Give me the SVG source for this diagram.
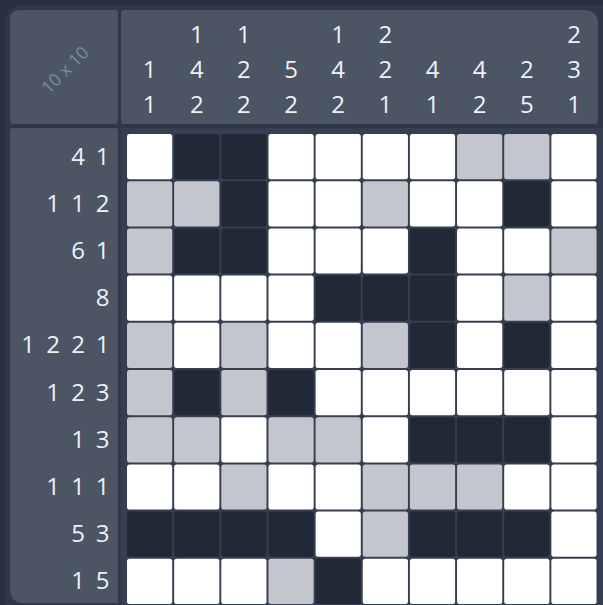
<svg xmlns="http://www.w3.org/2000/svg" width="603" height="605" viewBox="0 0 603 605">
<style>
.panel{fill:#4b5564}
.clue{font-family:"Open Sans","Noto Sans",sans-serif;font-size:24px;fill:#eef2f7;text-anchor:middle}
.c{rx:2.5;ry:2.5;width:45.2px;height:45.2px}
.w{fill:#ffffff}
.d{fill:#212937}
.g{fill:#c4c6ce}
</style>
<rect x="0" y="0" width="603" height="605" fill="#283141"/>
<rect x="5" y="5" width="620" height="630" rx="16" fill="#2f3848"/>
<g id="corner">
<path class="panel" d="M20,10 H115 Q118,10 118,13 V121 Q118,124 115,124 H13 Q10,124 10,121 V20 Q10,10 20,10 Z"/>
<text x="65" y="76" transform="rotate(-45 65 70)" font-family="'Open Sans','Noto Sans',sans-serif" font-size="17.5" fill="#7a8ca3" text-anchor="middle">10 x 10</text>
</g>
<g id="column-clues">
<path class="panel" d="M124,10 H584 Q598,10 598,24 V121 Q598,124 595,124 H124 Q121,124 121,121 V13 Q121,10 124,10 Z"/>
<text class="clue" x="149.6" y="78.3">1</text><text class="clue" x="149.6" y="113.3">1</text>
<text class="clue" x="196.8" y="43">1</text><text class="clue" x="196.8" y="78.3">4</text><text class="clue" x="196.8" y="113.3">2</text>
<text class="clue" x="243.9" y="43">1</text><text class="clue" x="243.9" y="78.3">2</text><text class="clue" x="243.9" y="113.3">2</text>
<text class="clue" x="291.1" y="78.3">5</text><text class="clue" x="291.1" y="113.3">2</text>
<text class="clue" x="338.2" y="43">1</text><text class="clue" x="338.2" y="78.3">4</text><text class="clue" x="338.2" y="113.3">2</text>
<text class="clue" x="385.4" y="43">2</text><text class="clue" x="385.4" y="78.3">2</text><text class="clue" x="385.4" y="113.3">1</text>
<text class="clue" x="432.5" y="78.3">4</text><text class="clue" x="432.5" y="113.3">1</text>
<text class="clue" x="479.7" y="78.3">4</text><text class="clue" x="479.7" y="113.3">2</text>
<text class="clue" x="526.8" y="78.3">2</text><text class="clue" x="526.8" y="113.3">5</text>
<text class="clue" x="574" y="43">2</text><text class="clue" x="574" y="78.3">3</text><text class="clue" x="574" y="113.3">1</text>
</g>
<g id="row-clues">
<path class="panel" d="M13,128 H115 Q118,128 118,131 V603 H24 Q10,603 10,589 V131 Q10,128 13,128 Z"/>
<text class="clue" x="78" y="164.6">4</text><text class="clue" x="102.5" y="164.6">1</text>
<text class="clue" x="53" y="211.8">1</text><text class="clue" x="78" y="211.8">1</text><text class="clue" x="102.5" y="211.8">2</text>
<text class="clue" x="78" y="259">6</text><text class="clue" x="102.5" y="259">1</text>
<text class="clue" x="102.5" y="306.2">8</text>
<text class="clue" x="28" y="353.4">1</text><text class="clue" x="53" y="353.4">2</text><text class="clue" x="78" y="353.4">2</text><text class="clue" x="102.5" y="353.4">1</text>
<text class="clue" x="53" y="400.6">1</text><text class="clue" x="78" y="400.6">2</text><text class="clue" x="102.5" y="400.6">3</text>
<text class="clue" x="78" y="447.8">1</text><text class="clue" x="102.5" y="447.8">3</text>
<text class="clue" x="53" y="495">1</text><text class="clue" x="78" y="495">1</text><text class="clue" x="102.5" y="495">1</text>
<text class="clue" x="78" y="542.2">5</text><text class="clue" x="102.5" y="542.2">3</text>
<text class="clue" x="78" y="589.4">1</text><text class="clue" x="102.5" y="589.4">5</text>
</g>
<g id="grid">
<rect x="121" y="128" width="482" height="477" fill="#363f4f"/>
<g id="row1">
<rect class="c w" x="127" y="134"/><rect class="c d" x="174.15" y="134"/><rect class="c d" x="221.3" y="134"/><rect class="c w" x="268.45" y="134"/><rect class="c w" x="315.6" y="134"/><rect class="c w" x="362.75" y="134"/><rect class="c w" x="409.9" y="134"/><rect class="c g" x="457.05" y="134"/><rect class="c g" x="504.2" y="134"/><rect class="c w" x="551.35" y="134"/>
</g>
<g id="row2">
<rect class="c g" x="127" y="181.2"/><rect class="c g" x="174.15" y="181.2"/><rect class="c d" x="221.3" y="181.2"/><rect class="c w" x="268.45" y="181.2"/><rect class="c w" x="315.6" y="181.2"/><rect class="c g" x="362.75" y="181.2"/><rect class="c w" x="409.9" y="181.2"/><rect class="c w" x="457.05" y="181.2"/><rect class="c d" x="504.2" y="181.2"/><rect class="c w" x="551.35" y="181.2"/>
</g>
<g id="row3">
<rect class="c g" x="127" y="228.4"/><rect class="c d" x="174.15" y="228.4"/><rect class="c d" x="221.3" y="228.4"/><rect class="c w" x="268.45" y="228.4"/><rect class="c w" x="315.6" y="228.4"/><rect class="c w" x="362.75" y="228.4"/><rect class="c d" x="409.9" y="228.4"/><rect class="c w" x="457.05" y="228.4"/><rect class="c w" x="504.2" y="228.4"/><rect class="c g" x="551.35" y="228.4"/>
</g>
<g id="row4">
<rect class="c w" x="127" y="275.6"/><rect class="c w" x="174.15" y="275.6"/><rect class="c w" x="221.3" y="275.6"/><rect class="c w" x="268.45" y="275.6"/><rect class="c d" x="315.6" y="275.6"/><rect class="c d" x="362.75" y="275.6"/><rect class="c d" x="409.9" y="275.6"/><rect class="c w" x="457.05" y="275.6"/><rect class="c g" x="504.2" y="275.6"/><rect class="c w" x="551.35" y="275.6"/>
</g>
<g id="row5">
<rect class="c g" x="127" y="322.8"/><rect class="c w" x="174.15" y="322.8"/><rect class="c g" x="221.3" y="322.8"/><rect class="c w" x="268.45" y="322.8"/><rect class="c w" x="315.6" y="322.8"/><rect class="c g" x="362.75" y="322.8"/><rect class="c d" x="409.9" y="322.8"/><rect class="c w" x="457.05" y="322.8"/><rect class="c d" x="504.2" y="322.8"/><rect class="c w" x="551.35" y="322.8"/>
</g>
<g id="row6">
<rect class="c g" x="127" y="370"/><rect class="c d" x="174.15" y="370"/><rect class="c g" x="221.3" y="370"/><rect class="c d" x="268.45" y="370"/><rect class="c w" x="315.6" y="370"/><rect class="c w" x="362.75" y="370"/><rect class="c w" x="409.9" y="370"/><rect class="c w" x="457.05" y="370"/><rect class="c w" x="504.2" y="370"/><rect class="c w" x="551.35" y="370"/>
</g>
<g id="row7">
<rect class="c g" x="127" y="417.2"/><rect class="c g" x="174.15" y="417.2"/><rect class="c w" x="221.3" y="417.2"/><rect class="c g" x="268.45" y="417.2"/><rect class="c g" x="315.6" y="417.2"/><rect class="c w" x="362.75" y="417.2"/><rect class="c d" x="409.9" y="417.2"/><rect class="c d" x="457.05" y="417.2"/><rect class="c d" x="504.2" y="417.2"/><rect class="c w" x="551.35" y="417.2"/>
</g>
<g id="row8">
<rect class="c w" x="127" y="464.4"/><rect class="c w" x="174.15" y="464.4"/><rect class="c g" x="221.3" y="464.4"/><rect class="c w" x="268.45" y="464.4"/><rect class="c w" x="315.6" y="464.4"/><rect class="c g" x="362.75" y="464.4"/><rect class="c g" x="409.9" y="464.4"/><rect class="c g" x="457.05" y="464.4"/><rect class="c w" x="504.2" y="464.4"/><rect class="c w" x="551.35" y="464.4"/>
</g>
<g id="row9">
<rect class="c d" x="127" y="511.6"/><rect class="c d" x="174.15" y="511.6"/><rect class="c d" x="221.3" y="511.6"/><rect class="c d" x="268.45" y="511.6"/><rect class="c w" x="315.6" y="511.6"/><rect class="c g" x="362.75" y="511.6"/><rect class="c d" x="409.9" y="511.6"/><rect class="c d" x="457.05" y="511.6"/><rect class="c d" x="504.2" y="511.6"/><rect class="c w" x="551.35" y="511.6"/>
</g>
<g id="row10">
<rect class="c w" x="127" y="558.8"/><rect class="c w" x="174.15" y="558.8"/><rect class="c w" x="221.3" y="558.8"/><rect class="c g" x="268.45" y="558.8"/><rect class="c d" x="315.6" y="558.8"/><rect class="c w" x="362.75" y="558.8"/><rect class="c w" x="409.9" y="558.8"/><rect class="c w" x="457.05" y="558.8"/><rect class="c w" x="504.2" y="558.8"/><rect class="c w" x="551.35" y="558.8"/>
</g>
</g>
</svg>
